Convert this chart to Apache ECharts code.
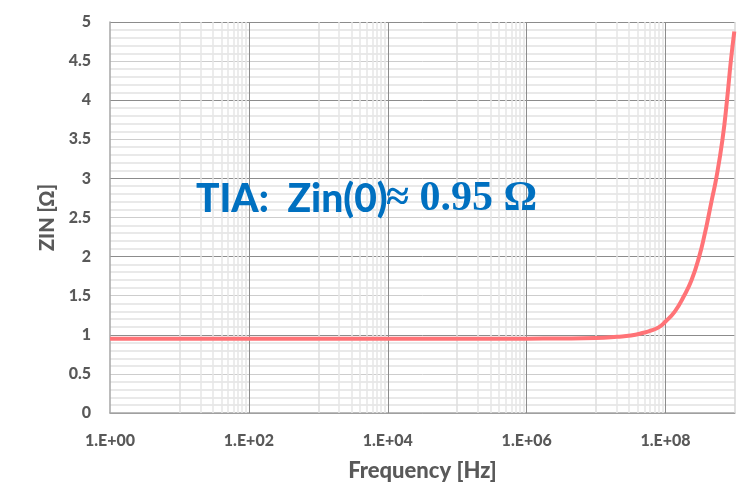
<!DOCTYPE html>
<html>
<head>
<meta charset="utf-8">
<script src="https://cdn.jsdelivr.net/npm/echarts@6/dist/echarts.min.js"></script>
<style>html,body{margin:0;padding:0;background:#fff}#c{width:756px;height:494px}</style>
</head>
<body>
<div id="c"></div>
<script>
// Data
const freqHz = [1, 10, 100, 1e3, 1e4, 1e5, 1e6, 3e6, 1e7, 2e7, 3.16e7, 5e7, 5.97e7, 7.94e7, 1e8, 1.365e8, 1.8e8, 2.37e8, 3.05e8, 3.69e8, 4.12e8, 4.62e8, 5.37e8, 6.61e8, 7.67e8, 8.71e8, 9.77e8];
const zinOhm = [0.95, 0.95, 0.95, 0.95, 0.95, 0.95, 0.951, 0.953, 0.96, 0.975, 0.99, 1.03, 1.05, 1.095, 1.17, 1.30, 1.48, 1.70, 2.0, 2.30, 2.5, 2.72, 3.0, 3.5, 4.0, 4.5, 4.88];
const yTickStep = 0.5;
const xMin = 1, xMax = 1e9;

// Gridline positions (axis values)
const majorDecades = [1e2, 1e4, 1e6, 1e8];
const oddDecades = [1e1, 1e3, 1e5, 1e7];
const minorMultipliers = [2, 3, 4, 5, 6, 7, 8, 9];

const chart = echarts.init(document.getElementById('c'));
const labelColor = '#595959';
const fontFam = 'Lato, "Open Sans", sans-serif';

const gridMarks = [];
oddDecades.forEach(b => minorMultipliers.forEach(m => gridMarks.push({ xAxis: b * m, lineStyle: { color: '#e6e6e6', width: 1.5, type: 'solid' } })));
oddDecades.forEach(b => gridMarks.push({ xAxis: b, lineStyle: { color: '#dedede', width: 1.5, type: 'solid' } }));
majorDecades.forEach(b => gridMarks.push({ xAxis: b, lineStyle: { color: '#8c8c8c', width: 1, type: 'solid' } }));
gridMarks.push({ xAxis: xMax, lineStyle: { color: '#d9d9d9', width: 1.5, type: 'solid' } });

chart.setOption({
  backgroundColor: '#ffffff',
  animation: false,
  grid: { left: 110, right: 21, top: 22, bottom: 81, containLabel: false },
  xAxis: {
    type: 'log', logBase: 10, min: xMin, max: xMax,
    name: 'Frequency [Hz]', nameLocation: 'middle', nameGap: 47,
    nameTextStyle: { color: labelColor, fontFamily: fontFam, fontWeight: 900, fontSize: 22 },
    axisLine: { show: true, lineStyle: { color: '#a6a6a6', width: 1.5 } },
    axisTick: { show: false },
    splitLine: { show: false },
    axisLabel: {
      color: labelColor, fontFamily: fontFam, fontWeight: 900, fontSize: 16, margin: 20,
      showMaxLabel: false,
      formatter: v => { const e = Math.round(Math.log10(v)); if (e % 2 !== 0 || e > 8) return ''; return '1.E+' + String(e).padStart(2, '0'); }
    }
  },
  yAxis: {
    type: 'value', min: 0, max: 5, interval: yTickStep,
    name: 'ZIN [Ω]', nameLocation: 'middle', nameGap: 50, nameRotate: 90,
    nameTextStyle: { color: labelColor, fontFamily: fontFam, fontWeight: 900, fontSize: 20 },
    axisLine: { show: true, lineStyle: { color: '#a6a6a6', width: 1.5 } },
    axisTick: { show: false },
    axisLabel: { color: labelColor, fontFamily: fontFam, fontWeight: 900, fontSize: 16, margin: 19 },
    splitLine: { show: true, lineStyle: { color: ['#8c8c8c', '#cdcdcd'], width: 1 } },
    minorTick: { show: false, splitNumber: 5 },
    minorSplitLine: { show: true, lineStyle: { color: '#e2e2e2', width: 1.5 } }
  },
  graphic: [
    { type: 'text', x: 196, y: 199, z: 10, style: { text: 'TIA:  Zin(0)', fill: '#0070C0', font: '900 39px Lato, sans-serif', verticalAlign: 'middle', align: 'left' } },
    { type: 'text', x: 386, y: 199, z: 10, style: { text: '≈ 0.95 Ω', fill: '#0070C0', font: 'bold 42px "Liberation Serif", "DejaVu Serif", serif', verticalAlign: 'middle', align: 'left' } }
  ],
  series: [
    {
      type: 'line', data: [], z: 1, silent: true,
      markLine: { silent: true, symbol: ['none', 'none'], label: { show: false }, animation: false, emphasis: { disabled: true }, data: gridMarks }
    },
    {
      type: 'line', z: 5, showSymbol: false, smooth: 0.5,
      data: freqHz.map((f, i) => [f, zinOhm[i]]),
      lineStyle: { color: '#ff7377', width: 4 },
      itemStyle: { color: '#ff7377' }
    }
  ]
});
</script>
</body>
</html>
